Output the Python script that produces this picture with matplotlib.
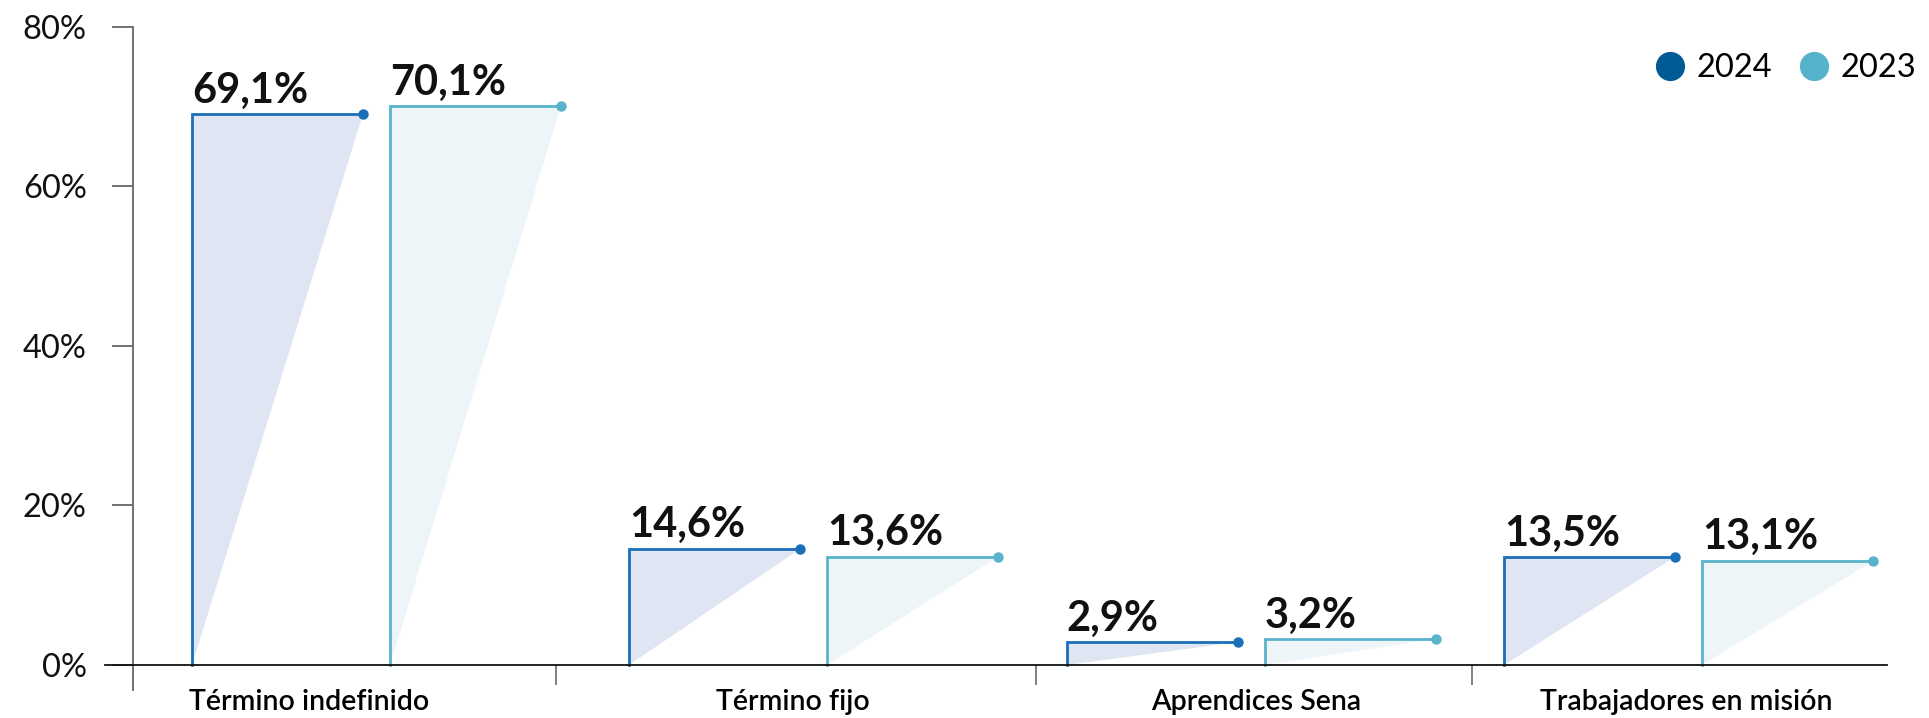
import matplotlib
matplotlib.use("Agg")
import matplotlib.pyplot as plt
from matplotlib.lines import Line2D
from matplotlib.patches import Polygon

# Chart data
categories = ["Término indefinido", "Término fijo", "Aprendices Sena", "Trabajadores en misión"]
years = ["2024", "2023"]
values_2024 = [69.1, 14.6, 2.9, 13.5]
values_2023 = [70.1, 13.6, 3.2, 13.1]
y_ticks = [0, 20, 40, 60, 80]

# Styling
line_colors = ["#1a6fb8", "#5ab3cc"]
fill_colors = ["#e0e5f3", "#edf5f9"]
legend_colors = ["#005a96", "#56b1cb"]
bar_offsets = [-0.42, 0.033]   # left edge of each year's shape, relative to the group centre
bar_width = 0.391
label_pos = [-0.152, 0.955, 2.013, 2.996]   # where the category names sit
separators = [0.413, 1.511, 2.508]

plt.rcParams["font.family"] = ["Lato", "DejaVu Sans"]

fig = plt.figure(figsize=(19.29, 7.18), dpi=100)
ax = fig.add_axes([105 / 1929, 1 - 690.5 / 718, 1782 / 1929, (690.5 - 27) / 718])
ax.set_xlim(-0.619, 3.456)
ax.set_ylim(-3.2, 80)

for s, vals in enumerate([values_2024, values_2023]):
    for i, v in enumerate(vals):
        x0 = i + bar_offsets[s]
        x1 = x0 + bar_width
        # triangular fill under the top edge
        ax.add_patch(Polygon([(x0, 0), (x0, v), (x1, v)], closed=True,
                             facecolor=fill_colors[s], edgecolor="none", zorder=1))
        ax.plot([x0, x0, x1], [0, v, v], color=line_colors[s], lw=2, zorder=2,
                solid_joinstyle="miter")
        ax.plot([x1], [v], "o", color=line_colors[s], ms=6.5, zorder=3)
        ax.text(x0, v + 1.4, f"{v:.1f}%".replace(".", ","), fontsize=30,
                fontweight="bold", ha="left", va="baseline", color="#111111")

# axes and ticks
for side in ["top", "right"]:
    ax.spines[side].set_visible(False)
ax.spines["left"].set_position(("data", -0.556))
ax.spines["left"].set_bounds(-3.1, 80)
ax.spines["left"].set_color("#666666")
ax.spines["left"].set_linewidth(1.3)
ax.spines["bottom"].set_position(("data", 0))
ax.spines["bottom"].set_color("#111111")
ax.spines["bottom"].set_linewidth(1.3)

ax.set_yticks(y_ticks)
ax.set_yticklabels([f"{t}%" for t in y_ticks])
ax.tick_params(axis="y", length=15, width=1.3, color="#666666", pad=18,
               labelsize=23.5, labelcolor="#111111")

ax.set_xticks(label_pos)
ax.set_xticklabels(categories)
ax.tick_params(axis="x", which="major", length=0, pad=17, labelsize=20.5)
for lbl in ax.get_xticklabels():
    lbl.set_fontweight("semibold")
ax.set_xticks(separators, minor=True)
ax.tick_params(axis="x", which="minor", length=14.5, width=1.3, color="#777777",
               direction="out")

# legend
handles = [Line2D([], [], ls="none", marker="o", ms=20, color=c) for c in legend_colors]
fig.legend(handles, years, loc="upper right", bbox_to_anchor=(1929 / 1929, 1 - 40 / 718),
           ncol=2, frameon=False, fontsize=23.5, handletextpad=0.3, columnspacing=0.8,
           borderaxespad=0, handlelength=1.0)

fig.savefig("out.png", dpi=100, facecolor="white")
